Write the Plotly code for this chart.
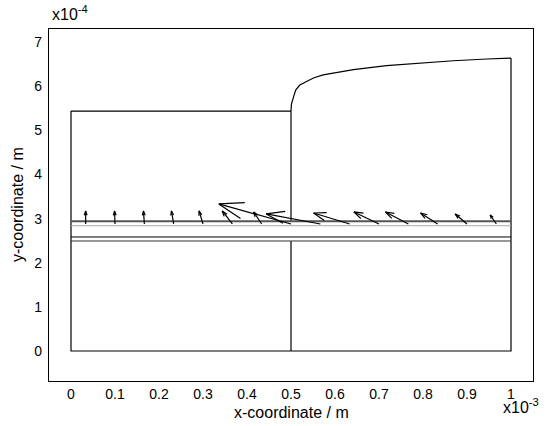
import plotly.graph_objects as go
import numpy as np

# ---- data (x in 1e-3 m, y in 1e-4 m) ----
# free surface of right region
surf_x = [0.5, 0.501, 0.507, 0.511, 0.520, 0.536, 0.551, 0.573, 0.600, 0.642, 0.717, 0.793, 0.869, 0.945, 1.0]
surf_y = [5.44, 5.60, 5.80, 5.92, 6.03, 6.12, 6.19, 6.26, 6.31, 6.38, 6.47, 6.53, 6.58, 6.62, 6.64]

left_top = 5.44          # top of left block
layer_levels = [2.94, 2.84, 2.585, 2.494]
layer_colors = ["#555555", "#a8a8a8", "#000000", "#333333"]
layer_widths = [2, 1, 1, 1]

# velocity arrows: tails, components (u in 1e-3 m, v in 1e-4 m)
arrow_x = [0.0333, 0.1, 0.1667, 0.2333, 0.3, 0.3667, 0.4333, 0.5,
           0.5667, 0.6333, 0.7, 0.7667, 0.8333, 0.9, 0.9667]
arrow_y = [2.88] * 15
arrow_u = [0.0, -0.001, -0.002, -0.005, -0.009, -0.023, -0.018, -0.164,
           -0.123, -0.082, -0.057, -0.052, -0.039, -0.027, -0.014]
arrow_v = [0.295, 0.295, 0.295, 0.295, 0.295, 0.295, 0.272, 0.454,
           0.227, 0.249, 0.272, 0.272, 0.249, 0.227, 0.204]

x_ticks = [0, 0.1, 0.2, 0.3, 0.4, 0.5, 0.6, 0.7, 0.8, 0.9, 1]
x_ticklabels = ["0", "0.1", "0.2", "0.3", "0.4", "0.5", "0.6", "0.7", "0.8", "0.9", "1"]
y_ticks = [0, 1, 2, 3, 4, 5, 6, 7]
y_ticklabels = ["0", "1", "2", "3", "4", "5", "6", "7"]

FONT = "Liberation Sans, Arial, Helvetica, sans-serif"
fig = go.Figure()

def line(xs, ys, color="black", width=1.2):
    fig.add_trace(go.Scatter(x=xs, y=ys, mode="lines", hoverinfo="skip",
                             line=dict(color=color, width=width), showlegend=False))

# outline of the domain
right_end = surf_y[-1]
line([0, 0, 1, 1], [left_top, 0, 0, right_end])
line([0, 0.5], [left_top, left_top])
line(surf_x, surf_y)
line([0.5, 0.5], [layer_levels[0], left_top])
line([0.5, 0.5], [0, layer_levels[-1]])
for lv, c, w in zip(layer_levels, layer_colors, layer_widths):
    line([0, 1], [lv, lv], c, w)

# quiver arrows (compute head in metres so geometry is isotropic)
alpha, beta = 0.33, 0.33
qx, qy = [], []
for x0, y0, u, v in zip(arrow_x, arrow_y, arrow_u, arrow_v):
    X, Y = x0 * 1e-3, y0 * 1e-4
    U, V = u * 1e-3, v * 1e-4
    hx, hy = X + U, Y + V
    w1 = (hx - alpha * (U + beta * V), hy - alpha * (V - beta * U))
    w2 = (hx - alpha * (U - beta * V), hy - alpha * (V + beta * U))
    pts_x = [X, hx, None, w1[0], hx, w2[0], None]
    pts_y = [Y, hy, None, w1[1], hy, w2[1], None]
    qx += [p * 1e3 if p is not None else None for p in pts_x]
    qy += [p * 1e4 if p is not None else None for p in pts_y]
fig.add_trace(go.Scatter(x=qx, y=qy, mode="lines", hoverinfo="skip",
                         line=dict(color="black", width=1.2), showlegend=False))

fig.update_layout(
    width=552, height=426,
    margin=dict(l=49, r=19, t=29, b=45, autoexpand=False),
    paper_bgcolor="white", plot_bgcolor="white",
    font=dict(family=FONT, size=14, color="black"),
    xaxis=dict(range=[-0.05, 1.05], tickvals=x_ticks, ticktext=x_ticklabels,
               showgrid=False, zeroline=False, showline=True, mirror=True,
               linecolor="black", linewidth=1.2, ticks="",
               automargin=False),
    yaxis=dict(range=[-0.68, 7.3], tickvals=y_ticks, ticktext=y_ticklabels,
               showgrid=False, zeroline=False, showline=True, mirror=True,
               linecolor="black", linewidth=1.2, ticks="outside", ticklen=3,
               tickcolor="rgba(0,0,0,0)", automargin=False),
    annotations=[
        dict(text="x-coordinate / m", xref="paper", yref="paper", x=0.5, y=0,
             yshift=-31, yanchor="middle", showarrow=False, font=dict(size=16)),
        dict(text="y-coordinate / m", xref="paper", yref="paper", x=0, y=0.5,
             xshift=-32, xanchor="center", textangle=-90, showarrow=False,
             font=dict(size=16)),
        dict(text="x10<sup>-4</sup>", xref="paper", yref="paper", x=0, y=1,
             xshift=1, yshift=16, xanchor="left", yanchor="middle",
             showarrow=False, font=dict(size=16)),
        dict(text="x10<sup>-3</sup>", xref="paper", yref="paper", x=1, y=0,
             xshift=8, yshift=-25, xanchor="right", yanchor="middle",
             showarrow=False, font=dict(size=16)),
    ],
)

fig.write_html("out.html", config={"displayModeBar": False},
               post_script="document.body.style.margin='0';document.body.style.padding='0';")
